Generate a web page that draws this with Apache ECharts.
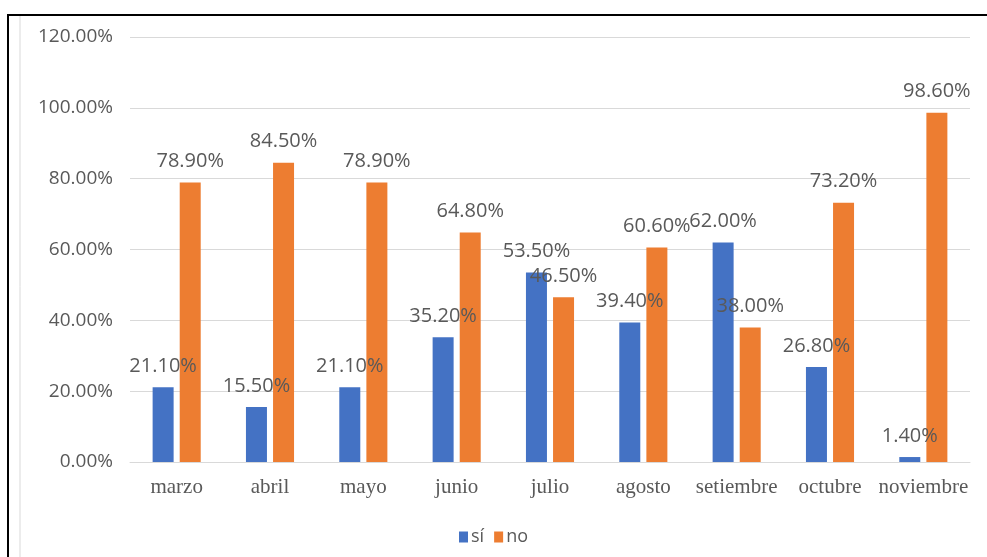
<!DOCTYPE html>
<html>
<head>
<meta charset="utf-8">
<script src="https://cdn.jsdelivr.net/npm/echarts@6/dist/echarts.min.js"></script>
<style>html,body{margin:0;padding:0;background:#fff}#c{width:987px;height:557px}</style>
</head>
<body>
<div id="c"></div>
<script>
var categories = ['marzo','abril','mayo','junio','julio','agosto','setiembre','octubre','noviembre'];
var siValues = [21.1, 15.5, 21.1, 35.2, 53.5, 39.4, 62.0, 26.8, 1.4];
var noValues = [78.9, 84.5, 78.9, 64.8, 46.5, 60.6, 38.0, 73.2, 98.6];
var seriesNames = ['sí', 'no'];

var chart = echarts.init(document.getElementById('c'), null, {renderer: 'canvas'});
var labelStyle = {
  show: true, position: 'top', distance: 11,
  formatter: function (p) { return p.value.toFixed(2) + '%'; },
  color: '#595959', fontSize: 20, fontFamily: 'Open Sans'
};
chart.setOption({
  animation: false,
  backgroundColor: '#fff',
  graphic: [
    {type: 'rect', shape: {x: 8, y: 15, width: 1000, height: 600}, style: {fill: 'none', stroke: '#000', lineWidth: 2}},
    {type: 'line', shape: {x1: 20, y1: 16, x2: 20, y2: 557}, style: {stroke: '#d9d9d9', lineWidth: 1}}
  ],
  grid: {left: 130, right: 17, top: 37, bottom: 95},
  legend: {
    top: 523, left: 'center', itemWidth: 9, itemHeight: 11, itemGap: 10,
    icon: 'rect',
    textStyle: {color: '#595959', fontSize: 18, fontFamily: 'Open Sans', padding: [0, 0, 0, -2]},
    data: seriesNames
  },
  xAxis: {
    type: 'category', data: categories,
    axisLine: {lineStyle: {color: '#d9d9d9', width: 1}},
    axisTick: {show: false},
    axisLabel: {interval: 0, hideOverlap: false, color: '#595959', fontSize: 21, fontFamily: 'Liberation Serif', margin: 15}
  },
  yAxis: {
    type: 'value', min: 0, max: 120, interval: 20,
    axisLabel: {formatter: function (v) { return v.toFixed(2) + '%'; }, color: '#595959', fontSize: 19, fontFamily: 'Open Sans', margin: 17},
    splitLine: {lineStyle: {color: '#d9d9d9', width: 1}},
    axisLine: {show: false}, axisTick: {show: false}
  },
  series: [
    {name: seriesNames[0], type: 'bar', data: siValues, barWidth: 21, barGap: '29%', itemStyle: {color: '#4472C4'}, label: labelStyle},
    {name: seriesNames[1], type: 'bar', data: noValues, barWidth: 21, itemStyle: {color: '#ED7D31'}, label: labelStyle}
  ]
});
</script>
</body>
</html>
